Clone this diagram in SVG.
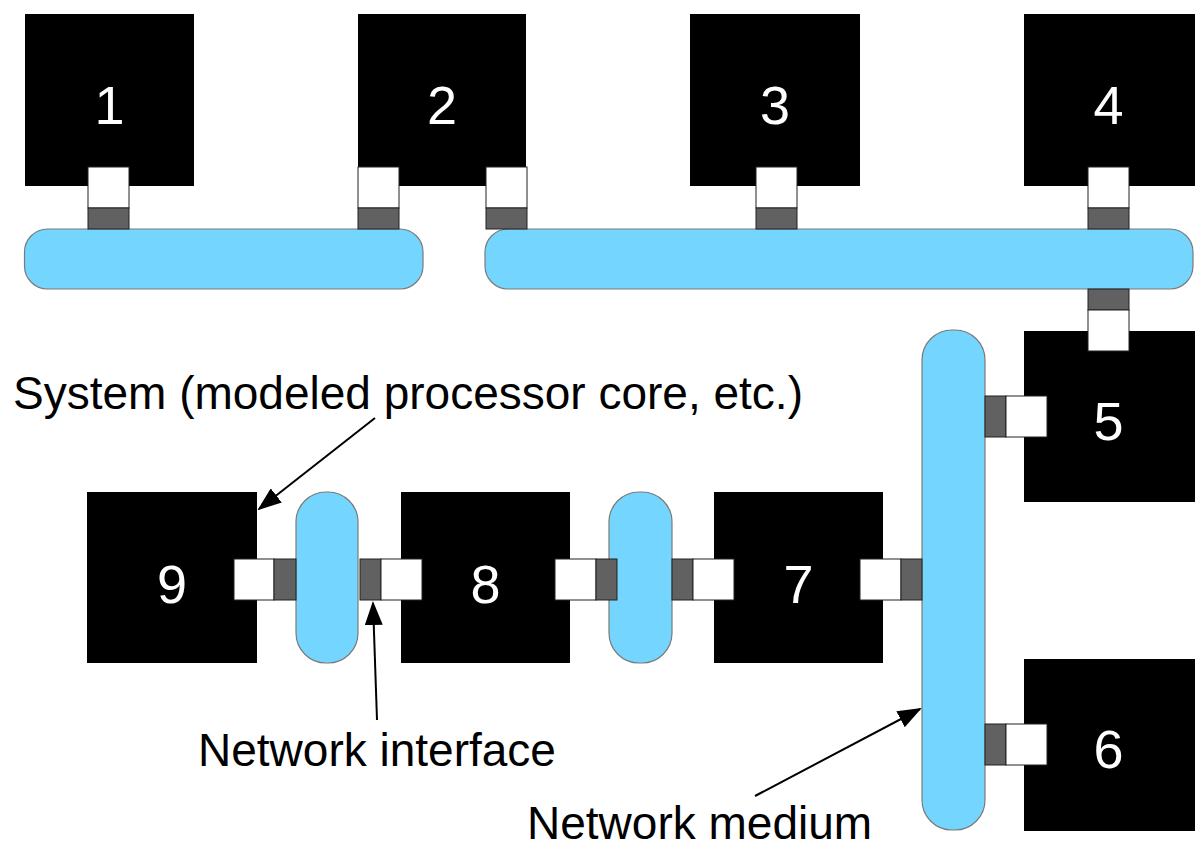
<svg xmlns="http://www.w3.org/2000/svg" width="1195" height="849" viewBox="0 0 1195 849">
<defs>
<style>
.sys{fill:#000}
.num{fill:#fff;font-family:"Liberation Sans",Arial,sans-serif;font-size:54px;text-anchor:middle}
.bus{fill:#74D6FF;stroke:#7a7a7a;stroke-width:1.2}
.ni{fill:#fff;stroke:#222;stroke-width:1}
.nd{fill:#616161;stroke:#222;stroke-width:1}
.lbl{fill:#000;font-family:"Liberation Sans",Arial,sans-serif;font-size:46px}
.arr{stroke:#000;stroke-width:2;fill:none;marker-end:url(#ah)}
</style>
<marker id="ah" markerWidth="12" markerHeight="9" refX="11" refY="4.5" orient="auto" markerUnits="strokeWidth">
<path d="M0,0 L12,4.5 L0,9 Z" fill="#000"/>
</marker>
</defs>
<rect width="1195" height="849" fill="#fff"/>

<g id="node-1"><rect class="sys" x="25" y="14" width="169" height="172"/><text class="num" x="109.5" y="124">1</text></g>
<g id="node-2"><rect class="sys" x="358" y="14" width="168" height="172"/><text class="num" x="442" y="124">2</text></g>
<g id="node-3"><rect class="sys" x="690" y="14" width="170" height="172"/><text class="num" x="775" y="124">3</text></g>
<g id="node-4"><rect class="sys" x="1024" y="14" width="171" height="172"/><text class="num" x="1108.5" y="124">4</text></g>
<g id="node-5"><rect class="sys" x="1024" y="331" width="171" height="171"/><text class="num" x="1108.5" y="440">5</text></g>
<g id="node-6"><rect class="sys" x="1024" y="659" width="171" height="172"/><text class="num" x="1108.5" y="768">6</text></g>
<g id="node-7"><rect class="sys" x="714" y="492" width="169" height="171"/><text class="num" x="798.5" y="603">7</text></g>
<g id="node-8"><rect class="sys" x="401" y="492" width="169" height="171"/><text class="num" x="485.5" y="603">8</text></g>
<g id="node-9"><rect class="sys" x="87" y="492" width="170" height="171"/><text class="num" x="172" y="603">9</text></g>

<g id="media">
<rect id="bus-a" class="bus" x="24.5" y="229" width="398.5" height="60" rx="23"/>
<rect id="bus-b" class="bus" x="485" y="229" width="708" height="60" rx="23"/>
<rect id="bus-c" class="bus" x="922" y="330" width="63" height="500" rx="30"/>
<rect id="bus-d" class="bus" x="296" y="492" width="62" height="171" rx="30"/>
<rect id="bus-e" class="bus" x="609" y="492" width="63" height="171" rx="30"/>
</g>

<g id="interfaces">
<rect class="ni" x="88" y="167" width="41" height="41"/><rect class="nd" x="88" y="208" width="41" height="21"/>
<rect class="ni" x="358" y="167" width="41" height="41"/><rect class="nd" x="358" y="208" width="41" height="21"/>
<rect class="ni" x="486" y="167" width="41" height="41"/><rect class="nd" x="486" y="208" width="41" height="21"/>
<rect class="ni" x="756" y="167" width="41" height="41"/><rect class="nd" x="756" y="208" width="41" height="21"/>
<rect class="ni" x="1088" y="167" width="41" height="41"/><rect class="nd" x="1088" y="208" width="41" height="21"/>
<rect class="nd" x="1088" y="289" width="41" height="21"/><rect class="ni" x="1088" y="310" width="41" height="41"/>
<rect class="nd" x="985" y="396" width="21" height="41"/><rect class="ni" x="1006" y="396" width="41" height="41"/>
<rect class="nd" x="985" y="724" width="21" height="41"/><rect class="ni" x="1006" y="724" width="41" height="41"/>
<rect class="ni" x="234" y="559" width="40" height="41"/><rect class="nd" x="274" y="559" width="22" height="41"/>
<rect class="nd" x="360" y="559" width="21" height="41"/><rect class="ni" x="381" y="559" width="41" height="41"/>
<rect class="ni" x="555" y="559" width="41" height="41"/><rect class="nd" x="596" y="559" width="21" height="41"/>
<rect class="nd" x="672" y="559" width="21" height="41"/><rect class="ni" x="693" y="559" width="41" height="41"/>
<rect class="ni" x="860" y="559" width="41" height="41"/><rect class="nd" x="901" y="559" width="21" height="41"/>
</g>

<g id="connectors">
<line class="arr" x1="375" y1="418" x2="259" y2="509"/>
<line class="arr" x1="377" y1="720" x2="373" y2="603"/>
<line class="arr" x1="755" y1="796" x2="920" y2="709"/>
</g>

<g id="labels">
<text class="lbl" x="13" y="409">System (modeled processor core, etc.)</text>
<text class="lbl" x="198" y="766">Network interface</text>
<text class="lbl" x="527" y="839">Network medium</text>
</g>
</svg>
